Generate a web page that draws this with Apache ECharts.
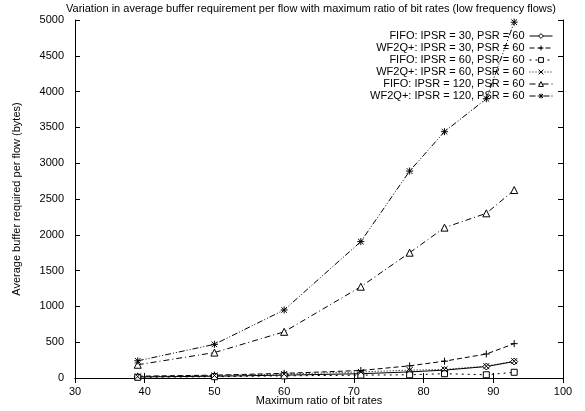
<!DOCTYPE html>
<html><head><meta charset="utf-8">
<script src="https://cdn.jsdelivr.net/npm/echarts@6/dist/echarts.min.js"></script>
<style>html,body{margin:0;padding:0;background:#fff}#c{width:585px;height:411px}</style>
</head><body><div id="c"></div>
<script>
var ratios = [39, 50, 60, 71, 78, 83, 89, 93];
var fifo30   = [15, 25, 40, 60, 85, 110, 160, 230];
var wf2q30   = [25, 40, 65, 105, 170, 235, 335, 480];
var fifo60   = [10, 18, 30, 40, 45, 60, 45, 80];
var wf2q60   = [20, 35, 55, 85, 110, 120, 165, 235];
var fifo120  = [185, 355, 645, 1275, 1750, 2100, 2300, 2625];
var wf2q120  = [240, 470, 950, 1905, 2890, 3440, 3900, 4970];
var names = ['FIFO: IPSR = 30, PSR = 60','WF2Q+: IPSR = 30, PSR = 60','FIFO: IPSR = 60, PSR = 60','WF2Q+: IPSR = 60, PSR = 60','FIFO: IPSR = 120, PSR = 60','WF2Q+: IPSR = 120, PSR = 60'];
var xTicks = [30, 40, 50, 60, 70, 80, 90, 100];
var yTicks = [0, 500, 1000, 1500, 2000, 2500, 3000, 3500, 4000, 4500, 5000];

var FONT = 'Liberation Sans, Arial, sans-serif';
var plusPath = 'path://M0,5L10,5M5,0L5,10';
var xPath = 'path://M0,0L10,10M10,0L0,10';
var starPath = 'path://M0,5L10,5M5,0L5,10M1,1L9,9M9,1L1,9';
var symbols = ['diamond', plusPath, 'rect', xPath, 'triangle', starPath];
var sizes = [7, 7, 6, 6, 7, 7];
var dashes = ['solid', [5, 3], [2, 4], [1, 2], [6, 3, 1, 3], [6, 2, 1, 2, 1, 2]];
var datasets = [fifo30, wf2q30, fifo60, wf2q60, fifo120, wf2q120];

function pairs(ys){ return ratios.map(function(x,i){ return [x, ys[i]]; }); }

var series = datasets.map(function(d, i){
  return {
    name: names[i], type: 'line', xAxisIndex: 0, yAxisIndex: 0,
    data: pairs(d), symbol: symbols[i], symbolSize: sizes[i],
    showAllSymbol: true,
    lineStyle: {color: '#000', width: 1, type: dashes[i]},
    itemStyle: {color: '#fff', borderColor: '#000', borderWidth: 1},
    emphasis: {disabled: true}, animation: false
  };
});

var axisCommonX = {type: 'value', min: 30, max: 100, interval: 10,
  axisLine: {show: true, lineStyle: {color: '#000', width: 1}},
  axisTick: {show: true, inside: true, length: 5, lineStyle: {color: '#000'}},
  splitLine: {show: false}};
var axisCommonY = {type: 'value', min: 0, max: 5000, interval: 500,
  axisLine: {show: true, lineStyle: {color: '#000', width: 1}},
  axisTick: {show: true, inside: true, length: 5, lineStyle: {color: '#000'}},
  splitLine: {show: false}};

var option = {
  backgroundColor: '#fff',
  animation: false,
  title: {text: 'Variation in average buffer requirement per flow with maximum ratio of bit rates (low frequency flows)',
    left: 66, top: 3, padding: 0,
    textStyle: {fontFamily: FONT, fontSize: 11, fontWeight: 'normal', color: '#000'}},
  legend: {orient: 'vertical', right: 32, top: 30, padding: 0, align: 'right',
    itemWidth: 23, itemHeight: 6, itemGap: 0, data: names, selectedMode: false,
    itemStyle: {color: '#fff', borderColor: '#000', borderWidth: 1},
    lineStyle: {width: 1},
    textStyle: {fontFamily: FONT, fontSize: 11, color: '#000', lineHeight: 12}},
  grid: {left: 75, right: 22, top: 20, bottom: 33, containLabel: false, outerBoundsMode: 'none'},
  xAxis: [
    Object.assign({}, axisCommonX, {position: 'bottom',
      name: 'Maximum ratio of bit rates', nameLocation: 'middle', nameGap: 17, nameMoveOverlap: false,
      nameTextStyle: {fontFamily: FONT, fontSize: 11, color: '#000', verticalAlign: 'top'},
      axisLabel: {fontFamily: FONT, fontSize: 11, color: '#000', margin: 8,
        formatter: function(v){ return xTicks.indexOf(v) >= 0 ? String(v) : ''; }}}),
    Object.assign({}, axisCommonX, {position: 'top', axisLabel: {show: false}})
  ],
  yAxis: [
    Object.assign({}, axisCommonY, {position: 'left',
      name: 'Average buffer required per flow (bytes)', nameLocation: 'middle', nameGap: 53, nameMoveOverlap: false,
      nameTextStyle: {fontFamily: FONT, fontSize: 11, color: '#000'},
      axisLabel: {fontFamily: FONT, fontSize: 11, color: '#000', margin: 11,
        formatter: function(v){ return yTicks.indexOf(v) >= 0 ? String(v) : ''; }}}),
    Object.assign({}, axisCommonY, {position: 'right', axisLabel: {show: false}})
  ],
  series: series
};
var chart = echarts.init(document.getElementById('c'), null, {renderer: 'canvas'});
chart.setOption(option);
</script></body></html>
